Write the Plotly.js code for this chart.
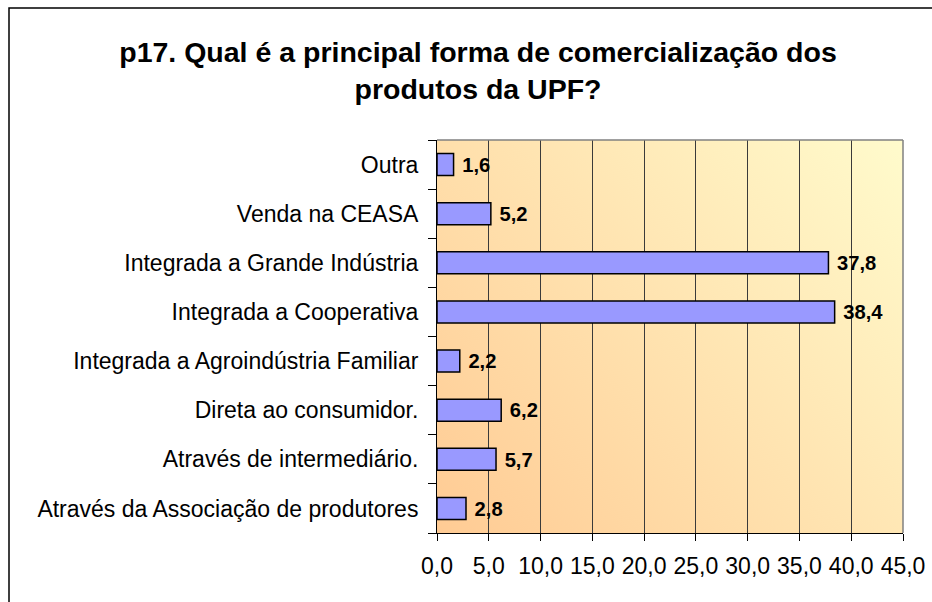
<!DOCTYPE html>
<html>
<head>
<meta charset="utf-8">
<script src="https://cdn.plot.ly/plotly-3.0.1.min.js"></script>
<style>
html,body{margin:0;padding:0;background:#fff;}
#chart{width:932px;height:602px;}
</style>
</head>
<body>
<div id="chart"></div>
<script>
const categories = [
  "Através da Associação de produtores",
  "Através de intermediário.",
  "Direta ao consumidor.",
  "Integrada a Agroindústria Familiar",
  "Integrada a Cooperativa",
  "Integrada a Grande Indústria",
  "Venda na CEASA",
  "Outra"
];
const values = [2.8, 5.7, 6.2, 2.2, 38.4, 37.8, 5.2, 1.6];
const titleText = "p17. Qual é a principal forma de comercialização dos<br>produtos da UPF?";

// gradient background image
const cv = document.createElement('canvas');
cv.width = 466; cv.height = 393;
const ctx = cv.getContext('2d');
const g = ctx.createLinearGradient(0, cv.height, cv.width, 0);
g.addColorStop(0, '#FFCB94');
g.addColorStop(1, '#FFFBCC');
ctx.fillStyle = g;
ctx.fillRect(0, 0, cv.width, cv.height);
const bgURL = cv.toDataURL();

const FONT = 'Liberation Sans, Arial, sans-serif';

const trace = {
  type: 'bar',
  orientation: 'h',
  x: values,
  y: categories,
  marker: {color: '#9999FF', line: {color: '#000000', width: 1.5}},
  texttemplate: '\u00a0%{x:.1f}',
  textposition: 'outside',
  cliponaxis: false,
  textfont: {family: FONT, size: 21, color: '#000', weight: 'bold'},
  hoverinfo: 'none'
};

const layout = {
  width: 932, height: 602,
  separators: ',.',
  margin: {l: 437, r: 29, t: 140, b: 69, pad: 0},
  paper_bgcolor: '#ffffff',
  plot_bgcolor: 'rgba(0,0,0,0)',
  font: {family: FONT, size: 23, color: '#000'},
  title: {
    text: titleText,
    font: {family: FONT, size: 28.5, color: '#000', weight: 'bold'},
    x: 478/932, xanchor: 'center', xref: 'container',
    y: 1 - 62/602, yanchor: 'middle', yref: 'container'
  },
  bargap: 0.55,
  xaxis: {
    range: [0, 45],
    dtick: 5,
    tick0: 0,
    tickformat: '.1f',
    showgrid: true,
    gridcolor: '#3a3a3a',
    gridwidth: 1,
    zeroline: false,
    showline: true,
    linecolor: '#000',
    linewidth: 1,
    ticks: 'outside',
    ticklen: 7,
    tickcolor: '#000',
    ticklabelstandoff: 5,
    tickfont: {size: 23},
    fixedrange: true
  },
  yaxis: {
    type: 'category',
    showline: true,
    linecolor: '#000',
    linewidth: 1,
    ticks: 'outside',
    tickson: 'boundaries',
    ticklen: 8,
    tickcolor: '#000',
    ticklabelstandoff: 13,
    tickfont: {size: 23},
    showgrid: false,
    fixedrange: true
  },
  images: [{
    source: bgURL, xref: 'paper', yref: 'paper',
    x: 0, y: 1, sizex: 1, sizey: 1, sizing: 'stretch', layer: 'below',
    xanchor: 'left', yanchor: 'top'
  }],
  shapes: [
    {type: 'line', xref: 'paper', yref: 'paper', x0: 0, x1: 1, y0: 1, y1: 1, line: {color: '#808080', width: 1.5}},
    {type: 'line', xref: 'paper', yref: 'paper', x0: 1, x1: 1, y0: 0, y1: 1, line: {color: '#808080', width: 1.5}},
    {type: 'rect', xref: 'paper', yref: 'paper',
     x0: (9-437)/466, x1: (940-437)/466, y0: (533-610)/393, y1: (533-8)/393,
     line: {color: '#000', width: 1.5}, fillcolor: 'rgba(0,0,0,0)', layer: 'below'}
  ],
  showlegend: false
};

Plotly.newPlot('chart', [trace], layout, {displayModeBar: false, staticPlot: true});
</script>
</body>
</html>
